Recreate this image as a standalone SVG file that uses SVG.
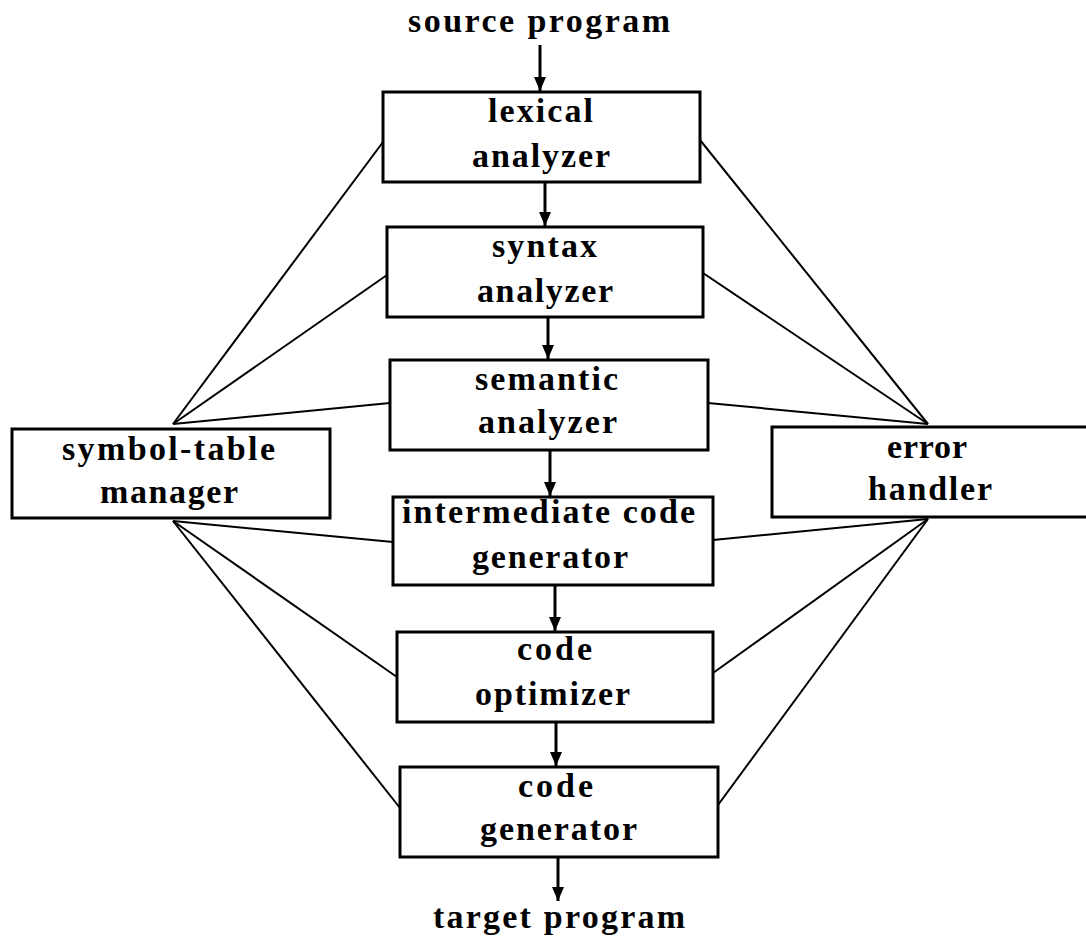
<svg xmlns="http://www.w3.org/2000/svg" width="1086" height="941" viewBox="0 0 1086 941">
<style>
.box{fill:#fff;stroke:#000;stroke-width:3}
.t{font-family:"Liberation Serif","Times New Roman",serif;font-weight:bold;font-size:34px;fill:#000;text-anchor:start}
.ln{stroke:#000;stroke-width:2;fill:none}
.ar{stroke:#000;stroke-width:3;fill:none;marker-end:url(#ah)}
</style>
<defs>
<marker id="ah" markerWidth="14" markerHeight="12" refX="14" refY="6" orient="auto" markerUnits="userSpaceOnUse" viewBox="0 0 14 12">
<path d="M0,0 L14,6 L0,12 Z" fill="#000"/>
</marker>
</defs>
<rect width="1086" height="941" fill="#fff"/>
<g id="connectors">
<line class="ln" x1="173" y1="424" x2="383" y2="142"/>
<line class="ln" x1="173" y1="424" x2="387" y2="275"/>
<line class="ln" x1="173" y1="424" x2="390" y2="403"/>
<line class="ln" x1="173" y1="521" x2="393" y2="542"/>
<line class="ln" x1="173" y1="521" x2="397" y2="677"/>
<line class="ln" x1="173" y1="521" x2="400" y2="808"/>
<line class="ln" x1="928" y1="424" x2="700" y2="140"/>
<line class="ln" x1="928" y1="424" x2="703" y2="273"/>
<line class="ln" x1="928" y1="424" x2="708" y2="403"/>
<line class="ln" x1="928" y1="519" x2="713" y2="540"/>
<line class="ln" x1="928" y1="519" x2="713" y2="673"/>
<line class="ln" x1="928" y1="519" x2="718" y2="805"/>
<line class="ar" x1="540" y1="45" x2="540" y2="91"/>
<line class="ar" x1="545" y1="182" x2="545" y2="226"/>
<line class="ar" x1="548" y1="317" x2="548" y2="359"/>
<line class="ar" x1="550" y1="450" x2="550" y2="496"/>
<line class="ar" x1="555" y1="585" x2="555" y2="631"/>
<line class="ar" x1="556" y1="722" x2="556" y2="766"/>
<line class="ar" x1="558" y1="857" x2="558" y2="901"/>
</g>
<g id="source"><text class="t" x="408" y="32" textLength="262" lengthAdjust="spacing">source program</text></g>
<g id="lexical">
<rect class="box" x="383" y="92" width="317" height="90"/>
<text class="t" x="488" y="122" textLength="105" lengthAdjust="spacing">lexical</text>
<text class="t" x="472" y="167" textLength="138" lengthAdjust="spacing">analyzer</text>
</g>
<g id="syntax">
<rect class="box" x="387" y="227" width="316" height="90"/>
<text class="t" x="492" y="257" textLength="105" lengthAdjust="spacing">syntax</text>
<text class="t" x="477" y="302" textLength="136" lengthAdjust="spacing">analyzer</text>
</g>
<g id="semantic">
<rect class="box" x="390" y="360" width="318" height="90"/>
<text class="t" x="475" y="390" textLength="143" lengthAdjust="spacing">semantic</text>
<text class="t" x="478" y="433" textLength="139" lengthAdjust="spacing">analyzer</text>
</g>
<g id="symtab">
<rect class="box" x="12" y="429" width="318" height="89"/>
<text class="t" x="62" y="460" textLength="213" lengthAdjust="spacing">symbol-table</text>
<text class="t" x="100" y="503" textLength="138" lengthAdjust="spacing">manager</text>
</g>
<g id="error">
<rect class="box" x="772" y="427" width="318" height="90"/>
<text class="t" x="887" y="458" textLength="80" lengthAdjust="spacing">error</text>
<text class="t" x="868" y="500" textLength="124" lengthAdjust="spacing">handler</text>
</g>
<g id="intermediate">
<rect class="box" x="393" y="497" width="320" height="88"/>
<text class="t" x="402" y="523" textLength="293" lengthAdjust="spacing">intermediate code</text>
<text class="t" x="472" y="568" textLength="156" lengthAdjust="spacing">generator</text>
</g>
<g id="optimizer">
<rect class="box" x="397" y="632" width="316" height="90"/>
<text class="t" x="517" y="660" textLength="75" lengthAdjust="spacing">code</text>
<text class="t" x="475" y="705" textLength="155" lengthAdjust="spacing">optimizer</text>
</g>
<g id="codegen">
<rect class="box" x="400" y="767" width="318" height="90"/>
<text class="t" x="518" y="797" textLength="75" lengthAdjust="spacing">code</text>
<text class="t" x="480" y="840" textLength="157" lengthAdjust="spacing">generator</text>
</g>
<g id="target"><text class="t" x="433" y="928" textLength="252" lengthAdjust="spacing">target program</text></g>
</svg>
